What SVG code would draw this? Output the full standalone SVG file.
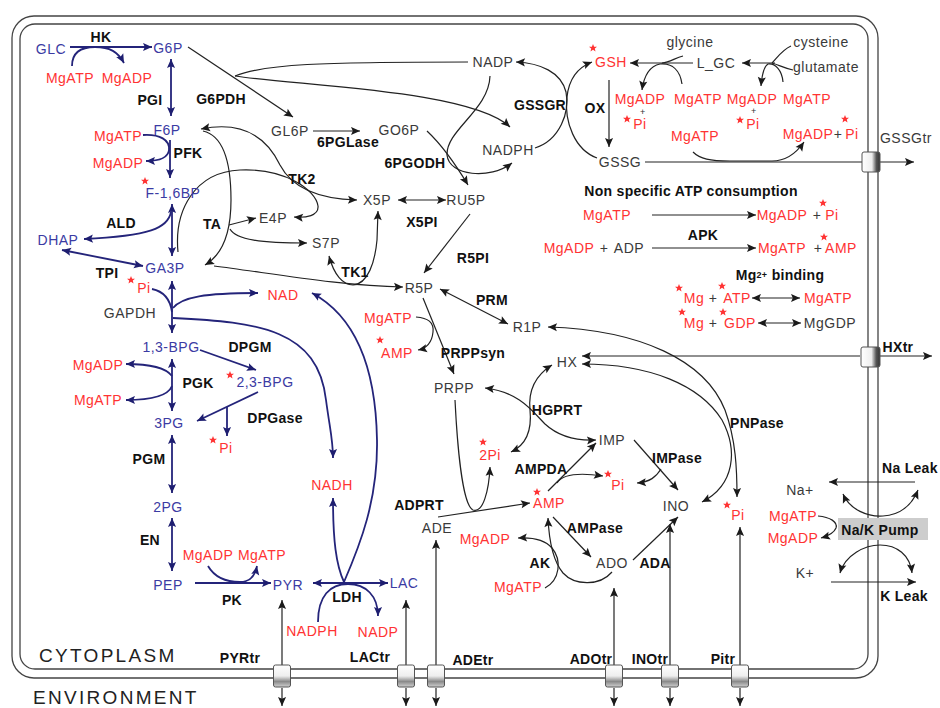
<svg xmlns="http://www.w3.org/2000/svg" xmlns:xlink="http://www.w3.org/1999/xlink" width="940" height="708" viewBox="0 0 940 708">
<style>
text{font-family:"Liberation Sans",Arial,Helvetica,sans-serif;font-size:14px;letter-spacing:.5px;text-anchor:middle}
.b{fill:#3b3ba3}
.r{fill:#ff3333}
.g{fill:#3a3a3a}
.k{font-weight:bold;fill:#111;letter-spacing:.3px}
.s{font-size:9px;fill:#333}
.big{font-size:19px;letter-spacing:2.3px;text-anchor:start;fill:#222}
.cb{fill:none;stroke:#24247a;stroke-width:1.8}
.ck{fill:none;stroke:#222;stroke-width:1.2}
.e{marker-end:url(#ak)}
.se{marker-start:url(#ak);marker-end:url(#ak)}
.st{marker-start:url(#ak)}
.eb{marker-end:url(#ab)}
.seb{marker-start:url(#ab);marker-end:url(#ab)}
.mem{fill:none;stroke:#444;stroke-width:1.3}
.bx{fill:url(#gv);stroke:#555;stroke-width:1}
.bxr{fill:url(#gh);stroke:#555;stroke-width:1}
</style>
<defs>
<marker id="ak" viewBox="0 0 10 10" refX="10" refY="5" markerWidth="12" markerHeight="9" markerUnits="userSpaceOnUse" orient="auto-start-reverse"><path d="M0,0.5 L10,5 L0,9.5 L2,5 z" fill="#1a1a1a"/></marker>
<marker id="ab" viewBox="0 0 10 10" refX="10" refY="5" markerWidth="12" markerHeight="9" markerUnits="userSpaceOnUse" orient="auto-start-reverse"><path d="M0,0.5 L10,5 L0,9.5 L2,5 z" fill="#1e1e70"/></marker>
<path id="star" d="M0,-4 L1.1,-1.3 4,-1.2 1.8,0.6 2.5,3.4 0,1.8 -2.5,3.4 -1.8,0.6 -4,-1.2 -1.1,-1.3Z" fill="#ff3333"/>
<linearGradient id="gv" x1="0" y1="0" x2="0" y2="1"><stop offset="0" stop-color="#fff"/><stop offset="0.5" stop-color="#eee"/><stop offset="0.75" stop-color="#8a8a8a"/><stop offset="1" stop-color="#d0d0d0"/></linearGradient>
<linearGradient id="gh" x1="0" y1="0" x2="1" y2="0"><stop offset="0" stop-color="#fff"/><stop offset="0.55" stop-color="#eee"/><stop offset="0.8" stop-color="#555"/><stop offset="1" stop-color="#333"/></linearGradient>
</defs>
<rect width="940" height="708" fill="#fff"/>
<g id="membrane">
<rect class="mem" x="12" y="16" width="866" height="662" rx="22"/>
<rect class="mem" x="20" y="24" width="848" height="645" rx="15" stroke-width="1"/>
</g>
<g id="connectors">
<path class="cb eb" d="M70,47 L152,47"/>
<path class="cb eb" d="M72,66 C72,52 82,47 95,47 C110,47 118,52 124,63"/>
<path class="cb seb" d="M171,59 L171,116"/>
<path class="cb eb" d="M143,135 C160,134 170,140 169,150 C168,158 160,161 146,161"/>
<path class="cb eb" d="M170,140 L170,178"/>
<path class="cb seb" d="M172,204 L172,256"/>
<path class="cb eb" d="M171,212 C168,228 150,236 84,239"/>
<path class="cb seb" d="M62,250 L143,266"/>
<path class="cb seb" d="M172,281 L172,333"/>
<path class="cb" d="M152,289 C162,291 170,298 172,312"/>
<path class="cb eb" d="M173,308 C182,297 205,293 258,293"/>
<path class="cb eb" d="M173,318 C260,322 318,330 326,400 C330,430 333,440 333,458"/>
<path class="cb seb" d="M172,359 L172,411"/>
<path class="cb eb" d="M172,376 C166,368 150,364 126,364"/>
<path class="cb eb" d="M172,386 C168,396 150,400 126,400"/>
<path class="cb eb" d="M200,350 L256,370"/>
<path class="cb eb" d="M258,392 L197,421"/>
<path class="cb eb" d="M227,407 L227,436"/>
<path class="cb seb" d="M172,435 L172,493"/>
<path class="cb seb" d="M172,518 L172,571"/>
<path class="cb eb" d="M195,583 L271,583"/>
<path class="cb eb" d="M208,566 C215,578 228,582 240,582 C250,582 255,576 257,566"/>
<path class="cb seb" d="M313,583 L388,583"/>
<path class="cb eb" d="M344,582 C336,565 333,540 333,498"/>
<path class="cb eb" d="M344,582 C360,545 378,500 377,440 C376,380 362,320 312,293"/>
<path class="cb eb" d="M318,622 C318,596 330,584 348,584 C366,584 378,596 378,616"/>
<path class="ck e" d="M188,47 L293,117"/>
<path class="ck" d="M235,76 C265,64 320,62 468,62"/>
<path class="ck e" d="M235,76 C300,86 470,90 510,127"/>
<path class="ck e" d="M313,131 L360,131"/>
<path class="ck e" d="M427,131 C443,146 456,165 468,185"/>
<path class="ck e" d="M490,76 C489,110 446,130 447,155 C449,176 490,180 512,163"/>
<path class="ck e" d="M535,148 C560,140 570,112 566,92 C561,72 540,63 516,62"/>
<path class="ck e" d="M597,158 C575,150 564,122 567,97 C569,78 579,67 592,62"/>
<path class="ck e" d="M609,80 L609,147" stroke-width="0.9"/>
<path class="ck e" d="M693,63 L630,63"/>
<path class="ck" d="M683,56 C675,58 670,62 662,63"/>
<path class="ck e" d="M682,84 C680,70 672,63 660,64 C650,66 644,76 642,90"/>
<path class="ck e" d="M775,63 L742,63"/>
<path class="ck" d="M791,46 C782,50 777,58 772,63"/>
<path class="ck" d="M793,70 C784,68 779,65 772,63"/>
<path class="ck e" d="M783,82 C782,70 775,63 768,64 C764,66 762,75 761,86"/>
<path class="ck" d="M645,162 L862,162"/>
<path class="ck e" d="M880,162 L914,162"/>
<path class="ck e" d="M693,152 C700,159 710,161 730,161 L772,161 C785,161 795,155 804,142"/>
<path class="ck e" d="M652,215 L756,215"/>
<path class="ck e" d="M652,248 L756,248"/>
<path class="ck se" d="M752,298 L800,298"/>
<path class="ck se" d="M758,323 L801,323"/>
<path class="ck se" d="M201,129 C245,120 268,140 280,165 C292,188 320,199 357,200"/>
<path class="ck e" d="M203,131 C225,136 231,165 231,200 C231,235 222,255 205,265"/>
<path class="ck e" d="M229,225 L256,218"/>
<path class="ck e" d="M230,229 C236,240 262,243 307,243"/>
<path class="ck e" d="M178,252 C174,210 195,172 240,170 C285,168 316,190 318,206 C319,216 306,218 294,217"/>
<path class="ck e" d="M214,266 C270,273 340,286 403,287"/>
<path class="ck se" d="M329,256 C334,275 343,285 353,285 C368,284 375,262 377,240 L378,211"/>
<path class="ck se" d="M398,200 L446,200"/>
<path class="ck e" d="M470,214 L424,273"/>
<path class="ck se" d="M440,289 L508,324"/>
<path class="ck e" d="M423,298 L454,374"/>
<path class="ck e" d="M416,317 C428,318 434,322 433,332 C432,342 428,348 418,350"/>
<path class="ck se" d="M548,327 C640,330 705,360 725,410 C736,440 737,470 737,497"/>
<path class="ck se" d="M582,364 C650,364 700,385 722,420 C738,450 735,485 702,502"/>
<path class="ck e" d="M860,356 L582,356"/>
<path class="ck e" d="M880,356 L932,356"/>
<path class="ck se" d="M485,388 C520,392 533,412 545,424 C558,436 575,441 596,440"/>
<path class="ck se" d="M552,365 C536,375 528,390 530,410 C532,430 526,445 511,452"/>
<path class="ck e" d="M455,400 C457,440 462,505 473,510 C483,514 489,490 490,467"/>
<path class="ck e" d="M438,517 L530,503"/>
<path class="ck e" d="M548,491 L596,443"/>
<path class="ck e" d="M557,483 C562,475 576,472 603,476"/>
<path class="ck e" d="M634,440 L678,490"/>
<path class="ck e" d="M661,469 C656,477 650,482 637,483"/>
<path class="ck e" d="M553,517 L591,557"/>
<path class="ck e" d="M633,560 L678,517"/>
<path class="ck e" d="M545,588 C560,580 562,560 552,548 C545,540 535,537 518,538"/>
<path class="ck e" d="M612,572 C600,586 575,586 563,573 C553,561 549,540 548,518"/>
<path class="ck e" d="M915,482 L829,482"/>
<path class="ck se" d="M843,494 C850,510 868,517 883,516 C900,515 912,505 918,490"/>
<path class="ck e" d="M831,582 L916,582"/>
<path class="ck se" d="M840,573 C845,555 865,545 880,545 C897,545 910,555 912,573"/>
<path class="ck e" d="M818,516 C830,517 838,522 836,528 C834,533 828,536 821,538"/>
<path class="ck st" d="M282,600 L282,665"/><path class="ck e" d="M282,688 L282,706"/>
<path class="ck st" d="M406,600 L406,665"/><path class="ck e" d="M406,688 L406,706"/>
<path class="ck st" d="M436,540 L436,665"/><path class="ck e" d="M436,688 L436,706"/>
<path class="ck st" d="M614,588 L614,665"/><path class="ck e" d="M614,688 L614,706"/>
<path class="ck st" d="M670,524 L670,665"/><path class="ck e" d="M670,688 L670,706"/>
<path class="ck st" d="M740,527 L740,665"/><path class="ck e" d="M740,688 L740,706"/>
</g>
<g id="transporters">
<rect class="bx" x="273.5" y="665" width="17" height="22" rx="2"/>
<rect class="bx" x="397.5" y="665" width="17" height="22" rx="2"/>
<rect class="bx" x="427.5" y="665" width="17" height="22" rx="2"/>
<rect class="bx" x="605.5" y="665" width="17" height="22" rx="2"/>
<rect class="bx" x="661.5" y="665" width="17" height="22" rx="2"/>
<rect class="bx" x="731.5" y="665" width="17" height="22" rx="2"/>
<rect class="bxr" x="862" y="152" width="18" height="20" rx="2"/>
<rect class="bxr" x="861" y="347" width="19" height="20" rx="2"/>
</g>
<g id="n-glc"><text class="b" x="51" y="54">GLC</text></g>
<g id="n-hk"><text class="k" x="101" y="42">HK</text></g>
<g id="n-g6p"><text class="b" x="168" y="53">G6P</text></g>
<g id="n-hk-atp"><text class="r" x="70" y="83">MgATP</text></g>
<g id="n-hk-adp"><text class="r" x="127" y="83">MgADP</text></g>
<g id="n-pgi"><text class="k" x="150" y="105">PGI</text></g>
<g id="n-g6pdh"><text class="k" x="221" y="104">G6PDH</text></g>
<g id="n-f6p"><text class="b" x="167" y="135">F6P</text></g>
<g id="n-pfk-atp"><text class="r" x="118" y="141">MgATP</text></g>
<g id="n-pfk"><text class="k" x="188" y="158">PFK</text></g>
<g id="n-pfk-adp"><text class="r" x="118" y="168">MgADP</text></g>
<g id="n-f16bp"><use href="#star" x="145" y="181"/><text class="b" x="173" y="198">F-1,6BP</text></g>
<g id="n-ald"><text class="k" x="121" y="228">ALD</text></g>
<g id="n-dhap"><text class="b" x="58" y="245">DHAP</text></g>
<g id="n-ga3p"><text class="b" x="165" y="273">GA3P</text></g>
<g id="n-tpi"><text class="k" x="107" y="278">TPI</text></g>
<g id="n-pi1"><use href="#star" x="131" y="280"/><text class="r" x="144" y="293">Pi</text></g>
<g id="n-gapdh"><text class="g" x="130" y="318">GAPDH</text></g>
<g id="n-nad"><text class="r" x="283" y="300">NAD</text></g>
<g id="n-13bpg"><text class="b" x="171" y="352">1,3-BPG</text></g>
<g id="n-dpgm"><text class="k" x="250" y="352">DPGM</text></g>
<g id="n-23bpg"><use href="#star" x="230" y="375"/><text class="b" x="265" y="387">2,3-BPG</text></g>
<g id="n-pgk-adp"><text class="r" x="98" y="370">MgADP</text></g>
<g id="n-pgk"><text class="k" x="198" y="388">PGK</text></g>
<g id="n-pgk-atp"><text class="r" x="98" y="405">MgATP</text></g>
<g id="n-dpgase"><text class="k" x="275" y="423">DPGase</text></g>
<g id="n-3pg"><text class="b" x="169" y="428">3PG</text></g>
<g id="n-pi2"><use href="#star" x="213" y="440"/><text class="r" x="226" y="453">Pi</text></g>
<g id="n-pgm"><text class="k" x="149" y="464">PGM</text></g>
<g id="n-nadh"><text class="r" x="332" y="490">NADH</text></g>
<g id="n-2pg"><text class="b" x="168" y="512">2PG</text></g>
<g id="n-en"><text class="k" x="150" y="545">EN</text></g>
<g id="n-pk-adp"><text class="r" x="208" y="560">MgADP</text></g>
<g id="n-pk-atp"><text class="r" x="262" y="560">MgATP</text></g>
<g id="n-pep"><text class="b" x="168" y="590">PEP</text></g>
<g id="n-pyr"><text class="b" x="288" y="590">PYR</text></g>
<g id="n-lac"><text class="b" x="404" y="588">LAC</text></g>
<g id="n-pk"><text class="k" x="232" y="605">PK</text></g>
<g id="n-ldh"><text class="k" x="347" y="602">LDH</text></g>
<g id="n-ldh-nadph"><text class="r" x="312" y="636">NADPH</text></g>
<g id="n-ldh-nadp"><text class="r" x="378" y="637">NADP</text></g>
<g id="n-gl6p"><text class="g" x="290" y="136">GL6P</text></g>
<g id="n-6pglase"><text class="k" x="348" y="147">6PGLase</text></g>
<g id="n-go6p"><text class="g" x="399" y="135">GO6P</text></g>
<g id="n-6pgodh"><text class="k" x="415" y="168">6PGODH</text></g>
<g id="n-nadp"><text class="g" x="493" y="67">NADP</text></g>
<g id="n-nadph"><text class="g" x="508" y="155">NADPH</text></g>
<g id="n-gssgr"><text class="k" x="540" y="110">GSSGR</text></g>
<g id="n-tk2"><text class="k" x="302" y="184">TK2</text></g>
<g id="n-x5p"><text class="g" x="377" y="205">X5P</text></g>
<g id="n-ru5p"><text class="g" x="466" y="205">RU5P</text></g>
<g id="n-ta"><text class="k" x="212" y="229">TA</text></g>
<g id="n-e4p"><text class="g" x="273" y="223">E4P</text></g>
<g id="n-x5pi"><text class="k" x="422" y="227">X5PI</text></g>
<g id="n-s7p"><text class="g" x="326" y="248">S7P</text></g>
<g id="n-r5pi"><text class="k" x="473" y="263">R5PI</text></g>
<g id="n-tk1"><text class="k" x="355" y="277">TK1</text></g>
<g id="n-r5p"><text class="g" x="419" y="293">R5P</text></g>
<g id="n-prm"><text class="k" x="492" y="305">PRM</text></g>
<g id="n-r1p"><text class="g" x="527" y="332">R1P</text></g>
<g id="n-prpp-atp"><text class="r" x="388" y="323">MgATP</text></g>
<g id="n-prpp-amp"><use href="#star" x="380" y="340"/><text class="r" x="397" y="358">AMP</text></g>
<g id="n-prppsyn"><text class="k" x="473" y="358">PRPPsyn</text></g>
<g id="n-prpp"><text class="g" x="454" y="393">PRPP</text></g>
<g id="n-hx"><text class="g" x="567" y="367">HX</text></g>
<g id="n-hgprt"><text class="k" x="557" y="415">HGPRT</text></g>
<g id="n-imp"><text class="g" x="612" y="445">IMP</text></g>
<g id="n-2pi"><use href="#star" x="483" y="442"/><text class="r" x="490" y="460">2Pi</text></g>
<g id="n-impase"><text class="k" x="677" y="463">IMPase</text></g>
<g id="n-ampda"><text class="k" x="541" y="474">AMPDA</text></g>
<g id="n-pi3"><use href="#star" x="608" y="474"/><text class="r" x="618" y="490">Pi</text></g>
<g id="n-amp"><use href="#star" x="537" y="492"/><text class="r" x="549" y="508">AMP</text></g>
<g id="n-adprt"><text class="k" x="419" y="510">ADPRT</text></g>
<g id="n-ino"><text class="g" x="676" y="511">INO</text></g>
<g id="n-ade"><text class="g" x="437" y="533">ADE</text></g>
<g id="n-ampase"><text class="k" x="595" y="533">AMPase</text></g>
<g id="n-ak-adp"><text class="r" x="485" y="544">MgADP</text></g>
<g id="n-ak"><text class="k" x="540" y="568">AK</text></g>
<g id="n-ado"><text class="g" x="612" y="568">ADO</text></g>
<g id="n-ada"><text class="k" x="655" y="568">ADA</text></g>
<g id="n-ak-atp"><text class="r" x="518" y="592">MgATP</text></g>
<g id="n-pnpase"><text class="k" x="757" y="428">PNPase</text></g>
<g id="n-pi4"><use href="#star" x="727" y="505"/><text class="r" x="738" y="520">Pi</text></g>
<g id="n-gsh"><use href="#star" x="593" y="48"/><text class="r" x="611" y="67">GSH</text></g>
<g id="n-ox"><text class="k" x="595" y="113">OX</text></g>
<g id="n-glycine"><text class="g" x="690" y="47">glycine</text></g>
<g id="n-lgc"><text class="g" x="716" y="68">L_GC</text></g>
<g id="n-cysteine"><text class="g" x="821" y="47">cysteine</text></g>
<g id="n-glutamate"><text class="g" x="826" y="72">glutamate</text></g>
<g id="n-gs-adp1"><text class="r" x="640" y="104">MgADP</text><text class="s" x="643" y="115">+</text><use href="#star" x="627" y="119"/><text class="r" x="640" y="129">Pi</text></g>
<g id="n-gs-atp1"><text class="r" x="698" y="104">MgATP</text></g>
<g id="n-gs-adp2"><text class="r" x="752" y="104">MgADP</text><text class="s" x="754" y="114">+</text><use href="#star" x="740" y="120"/><text class="r" x="753" y="129">Pi</text></g>
<g id="n-gs-atp2"><text class="r" x="807" y="104">MgATP</text></g>
<g id="n-gssg-atp"><text class="r" x="695" y="141">MgATP</text></g>
<g id="n-gssg-adp"><text class="r" x="808" y="139">MgADP</text><text class="g" x="838" y="139">+</text><use href="#star" x="845" y="119"/><text class="r" x="852" y="139">Pi</text></g>
<g id="n-gssg"><text class="g" x="620" y="167">GSSG</text></g>
<g id="n-gssgtr"><text class="g" x="906" y="143">GSSGtr</text></g>
<g id="n-nonspec"><text class="k" x="691" y="196">Non specific ATP consumption</text></g>
<g id="n-ns-atp"><text class="r" x="607" y="220">MgATP</text></g>
<g id="n-ns-adp"><text class="r" x="782" y="220">MgADP</text><text class="g" x="817" y="220">+</text><use href="#star" x="823" y="203"/><text class="r" x="832" y="220">Pi</text></g>
<g id="n-apk"><text class="k" x="703" y="240">APK</text></g>
<g id="n-apk-in"><text class="r" x="569" y="253">MgADP</text><text class="g" x="604" y="253">+</text><text class="g" x="629" y="253">ADP</text></g>
<g id="n-apk-out"><text class="r" x="782" y="253">MgATP</text><text class="g" x="818" y="253">+</text><use href="#star" x="824" y="237"/><text class="r" x="841" y="253">AMP</text></g>
<g id="n-mgbind"><text class="k" x="780" y="280">Mg<tspan font-size="9" dy="-2">2+</tspan><tspan dy="2"> binding</tspan></text></g>
<g id="n-mg-atp"><use href="#star" x="679" y="288"/><text class="r" x="694" y="303">Mg</text><text class="g" x="713" y="303">+</text><use href="#star" x="722" y="286"/><text class="r" x="737" y="303">ATP</text><text class="r" x="828" y="303">MgATP</text></g>
<g id="n-mg-gdp"><use href="#star" x="682" y="312"/><text class="r" x="694" y="328">Mg</text><text class="g" x="713" y="328">+</text><use href="#star" x="723" y="312"/><text class="r" x="740" y="328">GDP</text><text class="g" x="830" y="328">MgGDP</text></g>
<g id="n-hxtr"><text class="k" x="898" y="352">HXtr</text></g>
<g id="n-naleak"><text class="k" x="882" y="473" style="text-anchor:start">Na Leak</text></g>
<g id="n-na"><text class="g" x="800" y="495">Na+</text></g>
<g id="n-nak-atp"><text class="r" x="793" y="521">MgATP</text></g>
<g id="n-nakpump"><rect x="838" y="518" width="90" height="22" fill="#cdcdcd"/><text class="k" x="880" y="535">Na/K Pump</text></g>
<g id="n-nak-adp"><text class="r" x="793" y="543">MgADP</text></g>
<g id="n-k"><text class="g" x="805" y="578">K+</text></g>
<g id="n-kleak"><text class="k" x="904" y="601">K Leak</text></g>
<g id="n-pyrtr"><text class="k" x="240" y="663">PYRtr</text></g>
<g id="n-lactr"><text class="k" x="370" y="662">LACtr</text></g>
<g id="n-adetr"><text class="k" x="473" y="665">ADEtr</text></g>
<g id="n-adotr"><text class="k" x="591" y="664">ADOtr</text></g>
<g id="n-inotr"><text class="k" x="650" y="664">INOtr</text></g>
<g id="n-pitr"><text class="k" x="723" y="664">Pitr</text></g>
<g id="n-cytoplasm"><text class="big" x="39" y="662">CYTOPLASM</text></g>
<g id="n-environment"><text class="big" x="33" y="704">ENVIRONMENT</text></g>
</svg>
